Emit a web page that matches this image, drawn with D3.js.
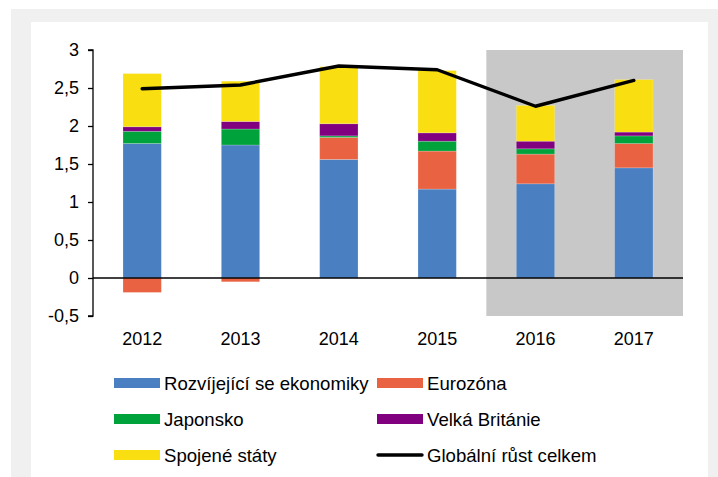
<!DOCTYPE html>
<html>
<head>
<meta charset="utf-8">
<script src="https://cdn.jsdelivr.net/npm/d3@7/dist/d3.min.js"></script>
<style>
  html, body { margin: 0; padding: 0; background: #ffffff; }
  svg { display: block; font-family: "Liberation Sans", Arial, sans-serif; }
</style>
</head>
<body>
<svg id="chart" width="718" height="477"></svg>
<script>
// Příspěvky k růstu světového HDP (p.b.)
const years = ["2012", "2013", "2014", "2015", "2016", "2017"];
const emerging = [1.77, 1.75, 1.56, 1.17, 1.24, 1.45];
const eurozone = [-0.19, -0.05, 0.29, 0.50, 0.39, 0.32];
const japan = [0.16, 0.21, 0.02, 0.13, 0.07, 0.10];
const uk = [0.06, 0.10, 0.16, 0.11, 0.10, 0.05];
const us = [0.70, 0.53, 0.75, 0.82, 0.47, 0.69];
const globalGrowth = [2.49, 2.54, 2.79, 2.74, 2.26, 2.60];
const yTicks = [-0.5, 0, 0.5, 1, 1.5, 2, 2.5, 3];
const forecastYears = ["2016", "2017"];

const seriesKeys = ["emerging", "eurozone", "japan", "uk", "us"];
const seriesNames = {
  emerging: "Rozvíjející se ekonomiky",
  eurozone: "Eurozóna",
  japan: "Japonsko",
  uk: "Velká Británie",
  us: "Spojené státy"
};
const colors = {
  emerging: "#4a7fc1",
  eurozone: "#e96342",
  japan: "#00a33b",
  uk: "#800080",
  us: "#f9de12"
};
const lineName = "Globální růst celkem";

const rows = years.map((y, i) => ({
  year: y,
  emerging: emerging[i],
  eurozone: eurozone[i],
  japan: japan[i],
  uk: uk[i],
  us: us[i]
}));

const svg = d3.select("#chart");
const W = 718, H = 477;

// frame: light grey border with white panel
svg.append("rect").attr("x", 0).attr("y", 0).attr("width", W).attr("height", H).attr("fill", "#ffffff");
svg.append("rect").attr("x", 11).attr("y", 9).attr("width", W - 11).attr("height", H - 9).attr("fill", "#f0f0f0");
svg.append("rect").attr("x", 31).attr("y", 22).attr("width", 708 - 31).attr("height", H - 22).attr("fill", "#ffffff");

const plot = { left: 93, right: 683, top: 50, bottom: 316 };

const x = d3.scaleBand()
  .domain(years)
  .range([plot.left, plot.right])
  .paddingInner(0.61)
  .paddingOuter(0.305);

const y = d3.scaleLinear()
  .domain([-0.5, 3])
  .range([plot.bottom, plot.top]);

// shaded forecast period
const step = x.step();
const shadeX0 = x(forecastYears[0]) - step * x.paddingInner() / 2;
svg.append("rect")
  .attr("x", shadeX0)
  .attr("y", y(3))
  .attr("width", plot.right - shadeX0)
  .attr("height", y(-0.5) - y(3))
  .attr("fill", "#c8c8c8");

// stacked bars
const stack = d3.stack().keys(seriesKeys).offset(d3.stackOffsetDiverging);
const stacked = stack(rows);

svg.append("g")
  .selectAll("g")
  .data(stacked)
  .join("g")
  .attr("fill", d => colors[d.key])
  .selectAll("rect")
  .data(d => d)
  .join("rect")
  .attr("x", d => x(d.data.year))
  .attr("width", x.bandwidth())
  .attr("y", d => y(Math.max(d[0], d[1])))
  .attr("height", d => Math.abs(y(d[0]) - y(d[1])))
  .attr("stroke", "#ffffff")
  .attr("stroke-opacity", 0.25)
  .attr("stroke-width", 0.8);

// y axis
const yAxis = d3.axisLeft(y)
  .tickValues(yTicks)
  .tickSize(5)
  .tickPadding(9)
  .tickFormat(d => String(d).replace(".", ","));
const gy = svg.append("g")
  .attr("transform", `translate(${plot.left},0)`)
  .call(yAxis);
gy.select(".domain").attr("stroke", "#000").attr("stroke-width", 1.3)
  .attr("d", `M-5,${y(3)}H0V${y(-0.5)}H-5`);
gy.selectAll(".tick line").attr("stroke", "#000").attr("stroke-width", 1.3);
gy.selectAll(".tick text").attr("font-size", 18).attr("fill", "#000")
  .attr("font-family", "Liberation Sans, Arial, sans-serif");

// x axis (zero line)
svg.append("line")
  .attr("x1", plot.left).attr("x2", plot.right)
  .attr("y1", y(0)).attr("y2", y(0))
  .attr("stroke", "#000").attr("stroke-width", 1.3);

// year labels
svg.append("g")
  .selectAll("text")
  .data(years)
  .join("text")
  .attr("x", d => x(d) + x.bandwidth() / 2)
  .attr("y", 345)
  .attr("text-anchor", "middle")
  .attr("font-size", 18)
  .attr("fill", "#000")
  .text(d => d);

// global growth line
const line = d3.line()
  .x((d, i) => x(years[i]) + x.bandwidth() / 2)
  .y(d => y(d));
svg.append("path")
  .datum(globalGrowth)
  .attr("d", line)
  .attr("fill", "none")
  .attr("stroke", "#000")
  .attr("stroke-width", 3.4)
  .attr("stroke-linejoin", "round")
  .attr("stroke-linecap", "round");

// legend
const legendItems = [
  { key: "emerging", col: 0, row: 0 },
  { key: "eurozone", col: 1, row: 0 },
  { key: "japan", col: 0, row: 1 },
  { key: "uk", col: 1, row: 1 },
  { key: "us", col: 0, row: 2 },
  { key: "line", col: 1, row: 2 }
];
const colX = [114, 377];
const rowY = [383, 419, 455];
const lg = svg.append("g").selectAll("g")
  .data(legendItems)
  .join("g")
  .attr("transform", d => `translate(${colX[d.col]},${rowY[d.row]})`);
lg.each(function(d) {
  const g = d3.select(this);
  if (d.key === "line") {
    g.append("line").attr("x1", 1).attr("x2", 45).attr("y1", 0).attr("y2", 0)
      .attr("stroke", "#000").attr("stroke-width", 3.4).attr("stroke-linecap", "round");
  } else {
    g.append("rect").attr("x", 0).attr("y", -5).attr("width", 46).attr("height", 10)
      .attr("fill", colors[d.key]);
  }
  g.append("text")
    .attr("x", 50)
    .attr("y", 6.5)
    .attr("font-size", 18.6)
    .attr("fill", "#000")
    .text(d.key === "line" ? lineName : seriesNames[d.key]);
});
</script>
</body>
</html>
